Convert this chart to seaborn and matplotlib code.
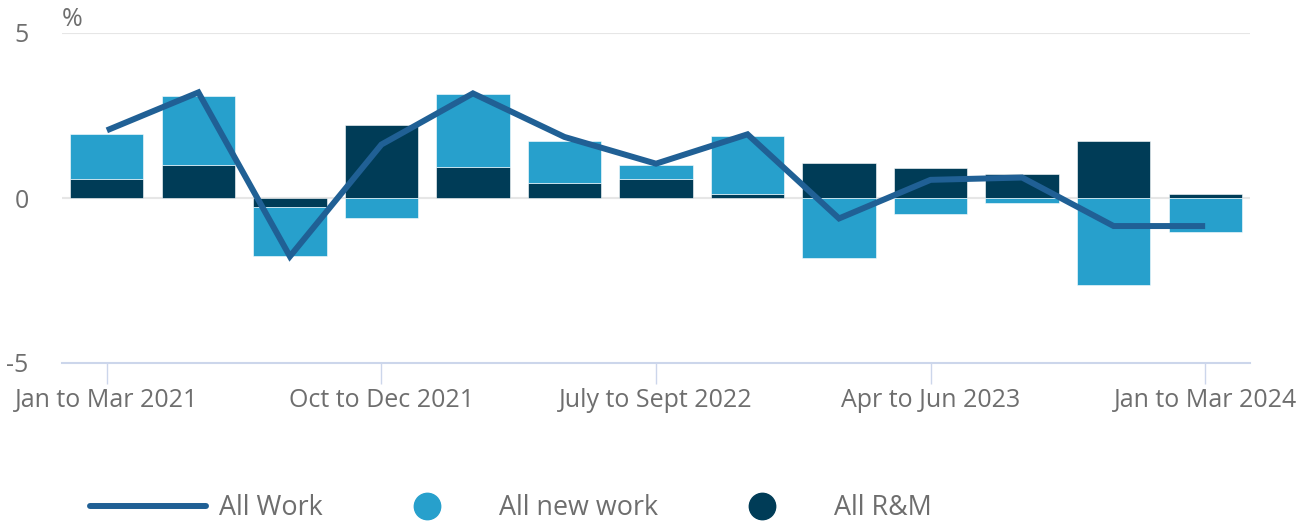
import numpy as np
import pandas as pd
import matplotlib
matplotlib.use("Agg")
import matplotlib.pyplot as plt
import seaborn as sns
from matplotlib.lines import Line2D

quarters = [
    "Jan to Mar 2021", "Apr to Jun 2021", "July to Sept 2021", "Oct to Dec 2021",
    "Jan to Mar 2022", "Apr to Jun 2022", "July to Sept 2022", "Oct to Dec 2022",
    "Jan to Mar 2023", "Apr to Jun 2023", "July to Sept 2023", "Oct to Dec 2023",
    "Jan to Mar 2024",
]
all_rm = [0.58, 1.00, -0.28, 2.20, 0.93, 0.44, 0.58, 0.12, 1.07, 0.92, 0.72, 1.73, 0.12]
all_new_work = [1.35, 2.08, -1.48, -0.61, 2.22, 1.29, 0.41, 1.75, -1.83, -0.48, -0.15, -2.64, -1.02]
all_work = [2.05, 3.20, -1.77, 1.62, 3.17, 1.85, 1.04, 1.93, -0.62, 0.55, 0.62, -0.85, -0.85]
tick_idx = [0, 3, 6, 9, 12]

C_NEW = "#27a0cc"
C_RM = "#003c57"
C_LINE = "#206095"
C_TEXT = "#6e6e6e"

sns.set_theme(style="white")
plt.rcParams["font.family"] = ["Open Sans", "DejaVu Sans"]

fig = plt.figure(figsize=(13.1, 5.24), dpi=100)
ax = fig.add_axes([62 / 1310, 1 - 363 / 524, (1250 - 62) / 1310, (363 - 33) / 524])

df = pd.DataFrame({"quarter": quarters, "rm": all_rm, "new": all_new_work, "work": all_work})
pos = np.arange(len(quarters))

# R&M bars from zero
sns.barplot(data=df, x="quarter", y="rm", order=quarters, color=C_RM, saturation=1,
            width=0.8, ax=ax, zorder=2, edgecolor="white", linewidth=0.4)

# New work stacked on the same-sign side
rm = np.array(all_rm)
nw = np.array(all_new_work)
bottoms = np.where(np.sign(rm) == np.sign(nw), rm, 0.0)
ax.bar(pos, nw, bottom=bottoms, width=0.8, color=C_NEW, zorder=2,
       edgecolor="white", linewidth=0.4)

# All work line
sns.lineplot(x=pos, y=df["work"].values, color=C_LINE, linewidth=4.3, ax=ax, zorder=3,
             solid_joinstyle="miter", solid_capstyle="butt")

ax.set_ylim(-5, 5)
ax.set_xlim(-0.49, 12.49)
ax.set_yticks([-5, 0, 5])
ax.set_yticklabels(["-5", "0", "5"])
ax.set_xticks(tick_idx)
ax.set_xticklabels([quarters[i] for i in tick_idx])
ax.set_xlabel("")
ax.set_ylabel("")

for y in [0, 5]:
    ax.axhline(y, color="#e6e6e6", linewidth=1.5, zorder=1)

for s in ["top", "right", "left"]:
    ax.spines[s].set_visible(False)
ax.spines["bottom"].set_color("#ccd6eb")
ax.spines["bottom"].set_linewidth(1.5)
ax.spines["bottom"].set_position(("data", -5))

ax.tick_params(axis="x", length=15, width=1, color="#ccd6eb", labelsize=18,
               labelcolor=C_TEXT, pad=3, bottom=True)
ax.tick_params(axis="y", length=0, labelsize=18, labelcolor=C_TEXT, pad=24)
for lbl in ax.get_yticklabels():
    lbl.set_horizontalalignment("right")

fig.text(62 / 1310, 1 - 20 / 524, "%", fontsize=18, color=C_TEXT, ha="left", va="center")

handles = [
    Line2D([0], [0], color=C_LINE, linewidth=4.3),
    Line2D([0], [0], marker="o", linestyle="none", markersize=19, markerfacecolor=C_NEW,
           markeredgecolor=C_NEW),
    Line2D([0], [0], marker="o", linestyle="none", markersize=19, markerfacecolor=C_RM,
           markeredgecolor=C_RM),
]
leg = fig.legend(handles, ["All Work", "All new work", "All R&M"], loc="center left",
                 bbox_to_anchor=(90 / 1310, 1 - 508 / 524), ncol=3, frameon=False,
                 fontsize=19.4, handlelength=4.3, handletextpad=0.5, columnspacing=1.72,
                 borderpad=0, borderaxespad=0)
for t in leg.get_texts():
    t.set_color(C_TEXT)

fig.savefig("out.png", dpi=100)
